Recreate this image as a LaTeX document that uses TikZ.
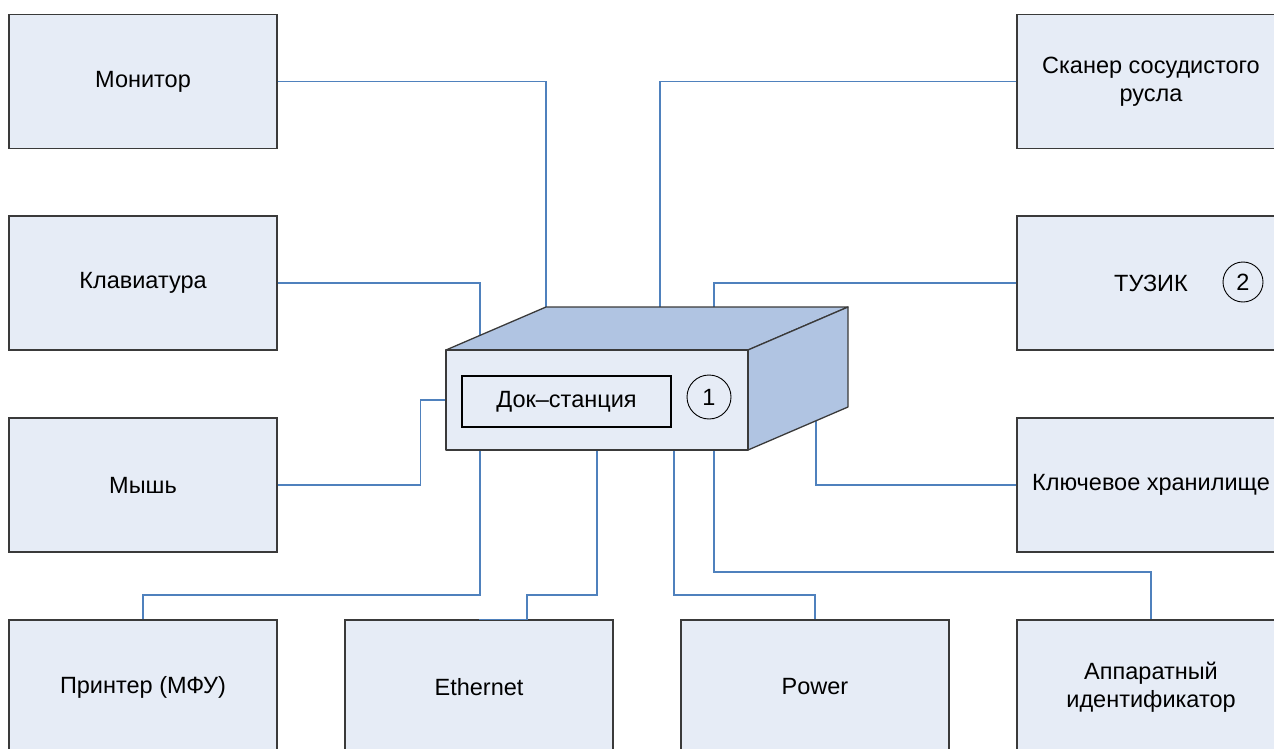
\documentclass[tikz,border=0pt]{standalone}
\usepackage{fontspec}
\setmainfont{Liberation Sans}
\usetikzlibrary{calc}
\definecolor{boxfill}{HTML}{E6ECF6}
\definecolor{facefill}{HTML}{B0C4E2}
\definecolor{wire}{HTML}{4F81BD}
\definecolor{edge}{HTML}{3A3A3A}
\tikzset{
  unit/.style={draw=edge, line width=1.3pt, fill=boxfill, minimum width=268pt, minimum height=134pt,
    align=center, inner sep=0pt, font=\fontsize{23.5}{28}\selectfont},
  wireline/.style={draw=wire, line width=1.6pt},
  faceline/.style={draw=edge, line width=1.3pt, line join=round},
  numcirc/.style={circle, draw=black, line width=0.9pt, inner sep=0pt, font=\fontsize{23.5}{28}\selectfont}
}
\begin{document}
\begin{tikzpicture}[x=1pt,y=-1pt]
\useasboundingbox (0,0) rectangle (1274,749);
\clip (0,0) rectangle (1274,749);
% boxes
\node[unit] (mon) at (143,81.5) {Монитор};
\node[unit] (kbd) at (143,283) {Клавиатура};
\node[unit] (mouse) at (143,485) {Мышь};
\node[unit] (prn) at (143,687) {Принтер (МФУ)};
\node[unit] (eth) at (479,687) {Ethernet};
\node[unit] (pow) at (815,687) {Power};
\node[unit] (hw) at (1151,687) {Аппаратный\\идентификатор};
\node[unit] (scan) at (1151,81.5) {Сканер сосудистого\\русла};
\node[unit] (tuz) at (1151,283) {ТУЗИК};
\node[numcirc, minimum size=40pt] (c2) at (1243,282) {2};
\node[unit] (key) at (1151,485) {Ключевое хранилище};
% dock coordinates
\coordinate (fTL) at (446,350);
\coordinate (fTR) at (748,350);
\coordinate (fBR) at (748,450);
\coordinate (fBL) at (446,450);
\coordinate (bTL) at (546,307);
\coordinate (bTR) at (848,307);
\coordinate (bBR) at (848,407);
\coordinate (dkb) at (480,335);
\coordinate (dsc) at (660,307);
\coordinate (dtz) at (714,307);
\coordinate (dms) at (446,400);
\coordinate (dky) at (816,421);
\coordinate (db1) at (480,450);
\coordinate (db2) at (597,450);
\coordinate (db3) at (674,450);
\coordinate (db4) at (714,450);
% connectors
\draw[wireline] (mon.east) -| (bTL);
\draw[wireline] (kbd.east) -| (dkb);
\draw[wireline] (mouse.east) -- ++(143,0) |- (dms);
\draw[wireline] (scan.west) -| (dsc);
\draw[wireline] (tuz.west) -| (dtz);
\draw[wireline] (key.west) -| (dky);
\draw[wireline] (db1) -- ++(0,145) -| (prn.north);
\draw[wireline] (db2) -- ++(0,145) -| ($(eth.north)+(48,0)$) -- (eth.north);
\draw[wireline] (db3) -- ++(0,145) -| (pow.north);
\draw[wireline] (db4) -- ++(0,122) -| (hw.north);
% dock station
\path[faceline, fill=facefill] (fTL) -- (bTL) -- (bTR) -- (fTR) -- cycle;
\path[faceline, fill=facefill] (fTR) -- (bTR) -- (bBR) -- (fBR) -- cycle;
\path[faceline, fill=boxfill] (fTL) -- (fTR) -- (fBR) -- (fBL) -- cycle;
\node[draw=black, line width=1.3pt, fill=boxfill, minimum width=209pt, minimum height=51pt, inner sep=0pt,
  font=\fontsize{23.5}{28}\selectfont] (dock) at (566.5,401.5) {Док–станция};
\node[numcirc, minimum size=44pt] (c1) at (709,397) {1};
\end{tikzpicture}
\end{document}
